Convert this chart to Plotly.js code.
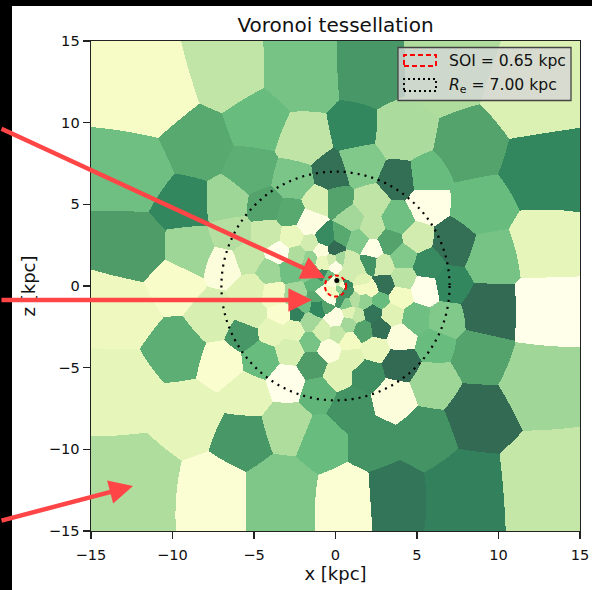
<!DOCTYPE html>
<html><head><meta charset="utf-8">
<script src="https://cdn.plot.ly/plotly-3.0.1.min.js"></script>
<style>
html,body{margin:0;padding:0;background:#000;width:592px;height:590px;overflow:hidden}
#panel{position:absolute;left:12px;top:6px;width:580px;height:584px;background:#fff}
#plot{position:absolute;left:0;top:0;width:592px;height:590px}
</style></head><body>
<div id="panel"></div><div id="plot"></div>
<script>
// Voronoi bin generators: x [kpc], z [kpc], relative value
const binX = [-11,-6.6,-2,2.2,6.6,12,-8.5,-4.8,-2,1.2,-12,-12.2,-9.3,-6.7,-5.2,-2.6,-0.3,-4.3,-2.8,-1.1,-9,-6.35,-4.2,-2.7,-1.65,-1.6,-0.65,0,-2.4,-3.5,-0.95,-1.55,-0.85,-0.25,-2.9,-4,-5.4,-6.8,-10,-13,-13,
 -7.5,-9.7,-7,-5.7,-4.6,-5.2,-5.2,-3.8,-2.6,-3.4,-2.4,-1.6,-2.6,-3.9,-0.85,0.1,0,-1.15,-2,-0.55,-1.25,
 -1.1,-1.45,-2.8,-1.55,-0.4,0.1,-3,-9.1,-5.5,-0.8,-3,-5.7,-3.5,-7.4,-12.5,
 2.25,2.75,4,5.5,1.85,2.3,3.5,4.9,2.75,1.75,1.4,0.8,4,6.7,9.5,7,12.8,8.9,6.1,2.45,0.9,1,2,4,6,3.6,8.7,12.4,1,5.5,2.35,12.7,8,3.6,0.7,
 3.9,1.6,4.1,5.6,8.3,12.7,9,12.7,9.6,7.25,5.6,5,3.8,2.25,1,0.1,2.25,3.35,4.2,5.7,3.05,4.2,1.4,2.3,2.1,2.95,1.4,0.4,0.3,
 -1.65,-0.85,0.9,1.6,0.9,0.7,0,0.7,0.3,0.7,1.2,0.9,-0.35,-0.95,-1.25,-0.35,0.3,-0.3,0.2,-0.55,-0.05,0.45,1.7];
const binZ = [11.6,13,13,13.2,13.3,11.5,8.6,10,8.9,9.6,7,2.2,5.1,5.2,7.1,6.5,6.9,4.9,4.45,5.25,2.2,3.2,3.2,3,3.85,2.6,3,2.3,1.9,2,2.15,1.7,1.5,1.6,1,0.9,1.8,1.3,0.1,-1.5,-6.5,
 -2,-4,-4.8,-3,-4.5,-1.7,-0.3,-0.55,-0.55,-1.7,-1.7,-2.2,-2.7,-2.8,-2.8,-2.9,-2,-1.4,-1.2,-1.25,-0.65,
 -6.5,-4.85,-4,-3.4,-3.9,-5.45,-5.85,-7.9,-6.6,-9.5,-8.6,-9.4,-12.6,-12.6,-12,
 -0.25,-0.85,-0.65,-0.2,-0.95,-1.67,-1.77,-2,-2.6,-2.75,-1.8,-2.35,-3.1,-2.1,-1.6,0.1,-1.6,-4.3,-3.6,-3.8,-3.4,-4.4,-5.45,-4.8,-6,-6.9,-7.9,-5.8,-7.5,-9.1,-9.5,-12.2,-12.6,-12.8,-13,
 6.5,7.5,9.35,6.7,8.5,7.1,4.85,2.6,1.8,2.6,5,2.9,4.1,5.05,4.05,5.25,3.6,2.7,1.8,1.3,0.05,0.45,2.8,2.25,1.4,1.3,1.1,3.1,1.7,
 1,0.65,1.6,0.35,0.67,0.15,1.3,-0.45,-0.85,-1.05,-0.85,-1.65,-0.85,-0.35,0.05,-0.25,-0.2,0.2,0.25,0.5,-0.55,0.05,-0.15];
const binV = [0.13,0.36,0.58,0.78,0.42,0.27,0.7,0.62,0.37,0.87,0.6,0.75,0.87,0.47,0.68,0.57,0.97,0.72,0.7,0.28,0.47,0.4,0.33,0.2,0.03,0.3,0.85,1,0.42,0,0.05,0.5,0.2,0.3,0.6,0.47,0.35,0.05,0.12,0.18,0.22,
 0.28,0.68,0.1,0.78,0.62,0.28,0.25,0.15,0.45,0.1,0.9,0.45,0.22,0.22,0.28,0.35,0.03,0.87,0.6,0.72,0.7,
 0.65,0.75,0.28,0.58,0.05,0.25,0,0.22,0.22,0.62,0.42,0.78,0.56,0.08,0.42,
 0.15,0.62,0.15,0,0.5,0.95,0.25,0.6,0.97,0.72,0.35,0.45,0.05,0.55,1,0.87,0,0.72,0.62,0.2,0.15,0.25,0.82,1,0.47,0.05,1,0.46,0.8,0.8,0.8,0.35,0.9,0.95,0.08,
 0.98,0.55,0.43,0.62,0.72,0.87,0.62,0.22,0.58,0.97,0.02,0.3,0.6,0.37,0.45,0.72,0.37,0.72,0.55,0.85,0.97,0.38,0.55,0.02,0.8,0.3,0.3,0.7,0.45,
 0.55,0.85,0.3,0.25,0.3,0.85,0.02,0.8,0.8,0.55,0.4,0.25,0.03,0.03,0.65,0.15,0.5,0.05,0.3,0.6,0.15,0.1,0.15];
const soiRadius = 0.65, reRadius = 7.0;
const centreX = [0.08], centreZ = [0.33];
const tickVals = [-15,-10,-5,0,5,10,15];
const legendLabels = ['SOI = 0.65 kpc','<i>R</i><sub>e</sub> = 7.00 kpc'];
const YlGn = [[0,'#ffffe5'],[0.125,'#f7fcb9'],[0.25,'#d9f0a3'],[0.375,'#addd8e'],[0.5,'#78c679'],[0.625,'#41ab5d'],[0.75,'#238443'],[0.875,'#006837'],[1,'#004529']];

// Assign each pixel of the map to its bin (distance scaled by local bin spacing)
const N = 490, gx = [], gz = [], zz = [];
for (let i=0;i<N;i++){ gx.push(-15+30*(i+0.5)/N); gz.push(-15+30*(i+0.5)/N); }
const spacing = binX.map((x,i)=>{let m=1e9;binX.forEach((y,j)=>{if(j!==i){const d=Math.hypot(x-y,binZ[i]-binZ[j]);if(d<m)m=d;}});return Math.pow(Math.max(m,0.2),0.5);});
for (let r=0;r<N;r++){ const row=new Array(N);
  for (let c=0;c<N;c++){ let best=1e18,b=0;
    for (let k=0;k<binX.length;k++){ const dx=gx[c]-binX[k],dz=gz[r]-binZ[k],d=(dx*dx+dz*dz)/(spacing[k]*spacing[k]); if(d<best){best=d;b=k;} }
    row[c]=binV[b]; }
  zz.push(row); }

const W=592,H=590,L=91,R=12,T=41,B=59;
const pw=W-L-R, ph=H-T-B;
const px=v=>(v-L)/pw, py=v=>1-(v-T)/ph;
const tickFont={family:'DejaVu Sans',size:14.6,color:'#111'};
const labelFont={family:'DejaVu Sans',size:18,color:'#111'};
const legendFont={family:'DejaVu Sans',size:15.6,color:'#111'};
const axis={range:[-15,15],tickmode:'array',tickvals:tickVals,ticktext:tickVals.map(v=>v<0?'\u2212'+(-v):String(v)),ticks:'outside',ticklen:7,tickwidth:1.2,tickcolor:'#222',
  showline:true,linecolor:'#222',linewidth:1.4,mirror:true,showgrid:false,zeroline:false,tickfont:tickFont,fixedrange:true};

const traces=[{type:'heatmap',x:gx,y:gz,z:zz,zmin:0,zmax:1,colorscale:YlGn,showscale:false,opacity:0.8,hoverinfo:'skip'},
 {type:'scatter',mode:'markers',x:centreX,y:centreZ,marker:{color:'#000',size:5},hoverinfo:'skip',showlegend:false}];

const shapes=[
 {type:'circle',xref:'x',yref:'y',x0:-soiRadius,x1:soiRadius,y0:-soiRadius,y1:soiRadius,line:{color:'#f00',width:2,dash:'4px,3px'}},
 {type:'circle',xref:'x',yref:'y',x0:-reRadius,x1:reRadius,y0:-reRadius,y1:reRadius,line:{color:'#000',width:2.2,dash:'2px,5px'}},
 {type:'rect',xref:'paper',yref:'paper',x0:px(398),x1:px(571),y0:py(100.5),y1:py(47.5),fillcolor:'rgba(215,215,215,0.8)',line:{color:'#444',width:1.3}},
 {type:'rect',xref:'paper',yref:'paper',x0:px(404),x1:px(436),y0:py(66),y1:py(55),line:{color:'#f00',width:1.9,dash:'5px,3px'}},
 {type:'rect',xref:'paper',yref:'paper',x0:px(404),x1:px(436),y0:py(91),y1:py(79),line:{color:'#000',width:1.9,dash:'2px,3px'}}
];
const arrow=(x0,y0,x1,y1)=>({xref:'paper',yref:'paper',x:px(x1),y:py(y1),axref:'pixel',ayref:'pixel',ax:x0-x1,ay:y0-y1,text:'',showarrow:true,arrowhead:2,arrowsize:1.05,arrowwidth:4.5,arrowcolor:'#ff4545',standoff:0});
const annotations=[
 {xref:'paper',yref:'paper',x:px(447),y:py(60.5),xanchor:'left',yanchor:'middle',text:legendLabels[0],showarrow:false,font:legendFont},
 {xref:'paper',yref:'paper',x:px(447),y:py(85.5),xanchor:'left',yanchor:'middle',text:legendLabels[1],showarrow:false,font:legendFont},
 arrow(0,128,325,278),arrow(0,300,312,300),arrow(0,521,133,486)
];
const layout={width:W,height:H,margin:{l:L,r:R,t:T,b:B,pad:0},paper_bgcolor:'rgba(0,0,0,0)',plot_bgcolor:'#fff',showlegend:false,
 title:{text:'Voronoi tessellation',font:{family:'DejaVu Sans',size:20,color:'#111'},x:(335.5)/W,xanchor:'center',y:1-25/H,yanchor:'middle'},
 xaxis:Object.assign({},axis,{ticklabelstandoff:3,title:{text:'x [kpc]',font:labelFont,standoff:5}}),
 yaxis:Object.assign({},axis,{title:{text:'z [kpc]',font:labelFont,standoff:8}}),
 shapes,annotations};
Plotly.newPlot('plot',traces,layout,{staticPlot:true,displayModeBar:false});
</script></body></html>
